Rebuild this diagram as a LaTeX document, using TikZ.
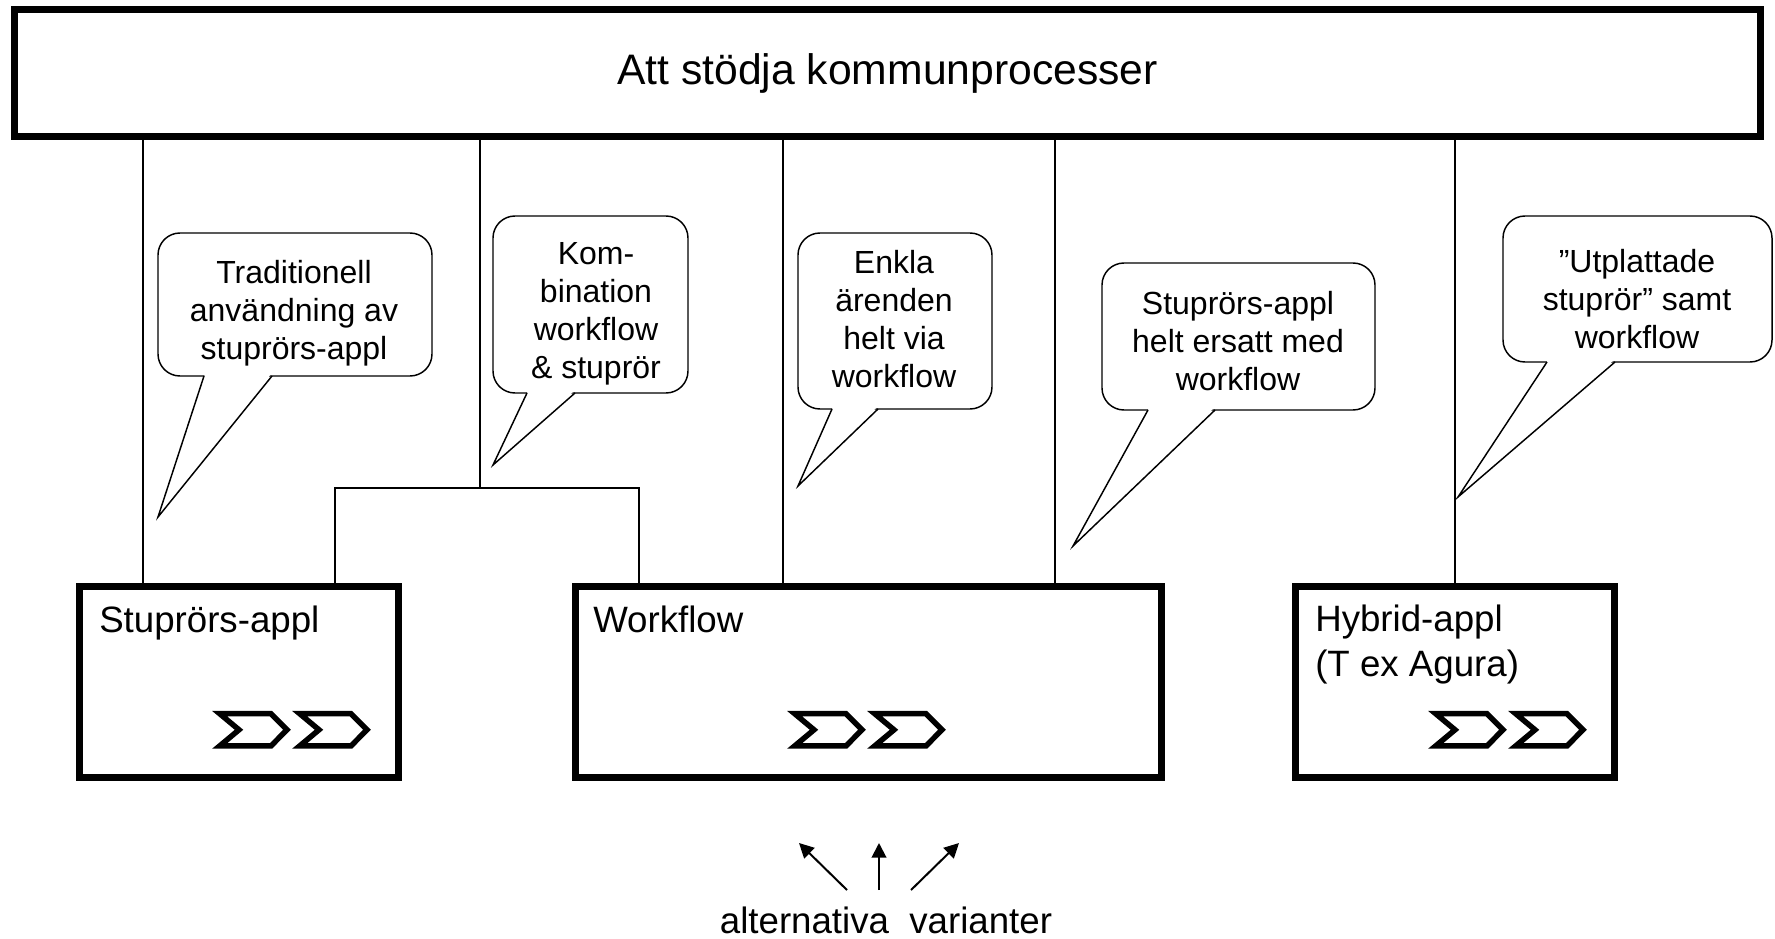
\documentclass[tikz,border=0pt]{standalone}
\usepackage{fontspec}
\setmainfont{Liberation Sans}
\usetikzlibrary{arrows.meta,calc}
\begin{document}
\begin{tikzpicture}[x=0.75pt,y=-0.75pt,
  thickbox/.style={draw, line width=5pt, fill=white, inner sep=0pt},
  conn/.style={line width=1.3pt},
  bubble/.style={draw, line width=1.1pt, fill=white, rounded corners=16.5pt, inner sep=0pt},
  tailedge/.style={line width=1.1pt, line join=miter},
  bubbletext/.style={align=center, inner sep=0pt, font=\fontsize{24}{28.5}\selectfont},
  boxlabel/.style={inner sep=0pt, font=\fontsize{27.5}{33.5}\selectfont},
  varrow/.style={line width=1.5pt, -{Triangle[length=11pt,width=11pt]}},
  chevron/.pic={\draw[line width=4.1pt, line join=miter] (2.7,2.7) -- (54,2.7) -- (70,18.8) -- (54,34.9) -- (2.7,34.9) -- (22,18.8) -- cycle;}
]
\useasboundingbox (0,0) rectangle (1775,939);

% main boxes
\node[thickbox, minimum width=1309.7pt, minimum height=95.5pt, font=\fontsize{32}{38}\selectfont] (top) at (887.5,73) {Att stödja kommunprocesser};
\node[thickbox, minimum width=239.5pt, minimum height=143.5pt] (stup) at (239,682) {};
\node[thickbox, minimum width=439.7pt, minimum height=143.5pt] (wf) at (868.5,682) {};
\node[thickbox, minimum width=239.5pt, minimum height=143.5pt] (hyb) at (1455,682) {};

% connectors
\coordinate (x1) at (143,0);
\coordinate (x3) at (783,0);
\coordinate (x4) at (1055,0);
\coordinate (x5) at (1455,0);
\coordinate (jn) at (480,488);
\coordinate (jl) at (335,488);
\coordinate (jr) at (639,488);
\draw[conn] (top.south -| x1) -- (stup.north -| x1);
\draw[conn] (top.south -| jn) -- (jn);
\draw[conn] (stup.north -| jl) -- (jl) -- (jr) -- (wf.north -| jr);
\draw[conn] (top.south -| x3) -- (wf.north -| x3);
\draw[conn] (top.south -| x4) -- (wf.north -| x4);
\draw[conn] (top.south -| x5) -- (hyb.north -| x5);

% box labels
\node[boxlabel, anchor=base west] (l1) at (99,632) {Stuprörs-appl};
\node[boxlabel, anchor=base west] (l2) at (593,632) {Workflow};
\node[boxlabel, anchor=north west, align=left] (l3) at (1315,605) {Hybrid-appl\\(T ex Agura)};

% chevrons
\pic at (217,711) {chevron};
\pic at (297,711) {chevron};
\pic at (792,711) {chevron};
\pic at (872,711) {chevron};
\pic at (1433,711) {chevron};
\pic at (1513,711) {chevron};

% callouts
\node[bubble, minimum width=205.5pt, minimum height=107.25pt] (c1) at (295,304.5) {};
\coordinate (c1tip) at (158,517); \coordinate (c1l) at (204,376); \coordinate (c1r) at (272,376);
\fill[white] ($(c1l)+(1,-2)$) -- (c1tip) -- ($(c1r)+(-1,-2)$) -- cycle;
\draw[tailedge] (c1l) -- (c1tip) -- (c1r);

\node[bubble, minimum width=146.25pt, minimum height=132.75pt] (c2) at (590.5,304.5) {};
\coordinate (c2tip) at (493,465); \coordinate (c2l) at (527,393); \coordinate (c2r) at (575,393);
\fill[white] ($(c2l)+(1,-2)$) -- (c2tip) -- ($(c2r)+(-1,-2)$) -- cycle;
\draw[tailedge] (c2l) -- (c2tip) -- (c2r);

\node[bubble, minimum width=145.5pt, minimum height=132pt] (c3) at (895,321) {};
\coordinate (c3tip) at (798,486); \coordinate (c3l) at (832,409); \coordinate (c3r) at (878,409);
\fill[white] ($(c3l)+(1,-2)$) -- (c3tip) -- ($(c3r)+(-1,-2)$) -- cycle;
\draw[tailedge] (c3l) -- (c3tip) -- (c3r);

\node[bubble, minimum width=204.75pt, minimum height=110.25pt] (c4) at (1238.5,336.5) {};
\coordinate (c4tip) at (1073,546); \coordinate (c4l) at (1148,410); \coordinate (c4r) at (1215,410);
\fill[white] ($(c4l)+(1,-2)$) -- (c4tip) -- ($(c4r)+(-1,-2)$) -- cycle;
\draw[tailedge] (c4l) -- (c4tip) -- (c4r);

\node[bubble, minimum width=201.75pt, minimum height=109.5pt] (c5) at (1637.5,289) {};
\coordinate (c5tip) at (1458,497); \coordinate (c5l) at (1547,362); \coordinate (c5r) at (1615,362);
\fill[white] ($(c5l)+(1,-2)$) -- (c5tip) -- ($(c5r)+(-1,-2)$) -- cycle;
\draw[tailedge] (c5l) -- (c5tip) -- (c5r);

\node[bubbletext] (t1) at (294,313.5) {Traditionell\\användning av\\stuprörs-appl};
\node[bubbletext] (t2) at (596,314) {Kom-\\bination\\workflow\\\& stuprör};
\node[bubbletext] (t3) at (894,319.5) {Enkla\\ärenden\\helt via\\workflow};
\node[bubbletext] (t4) at (1238,341) {Stuprörs-appl\\helt ersatt med\\workflow};
\node[bubbletext] (t5) at (1637,299) {”Utplattade\\stuprör” samt\\workflow};

% bottom label and arrows
\node[boxlabel, anchor=base] (alt) at (886,933) {alternativa~~varianter};
\coordinate (a1) at (847,890); \coordinate (a1t) at (799,843);
\coordinate (a2) at (879,890); \coordinate (a2t) at (879,843);
\coordinate (a3) at (911,890); \coordinate (a3t) at (959,843);
\draw[varrow] (a1) -- (a1t);
\draw[varrow] (a2) -- (a2t);
\draw[varrow] (a3) -- (a3t);
\end{tikzpicture}
\end{document}
